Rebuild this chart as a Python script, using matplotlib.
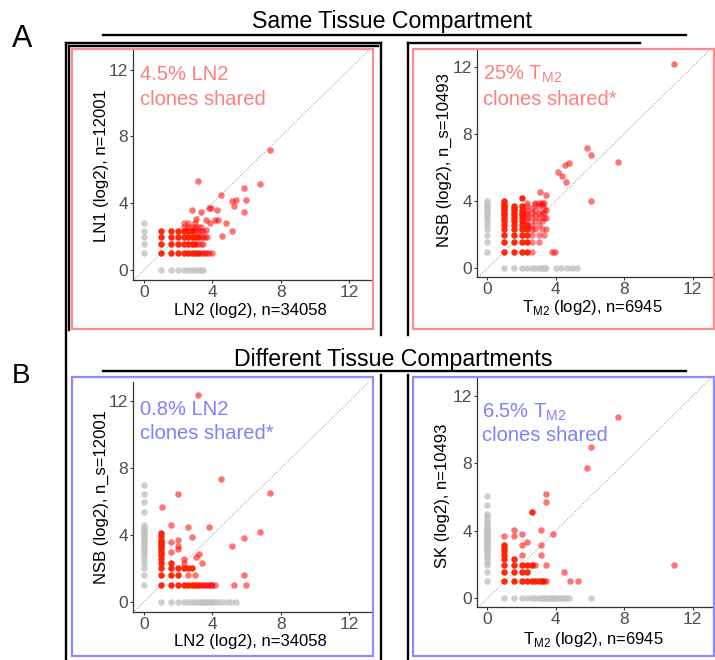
import numpy as np
import matplotlib.pyplot as plt
from matplotlib.lines import Line2D
from matplotlib.patches import Rectangle

plt.rcParams['font.family'] = ['Liberation Sans', 'DejaVu Sans']
plt.rcParams['mathtext.fontset'] = 'custom'
plt.rcParams['mathtext.rm'] = 'Liberation Sans'

# ---------------- data (log2 clone counts) ----------------
# A left: LN2 (x) vs LN1 (y)
a1_gray_y0 = [1, 1.585, 2, 2.322, 2.807]                       # on x = 0
a1_gray_x0 = [1, 1.585, 2, 2.322, 2.585, 2.807, 3, 3.17, 3.32, 3.46]  # on y = 0
a1_dense_rows = {
    1.0: [1, 1.585, 2, 2.322, 2.585, 2.807, 3, 3.17],
    1.585: [1, 1.585, 2, 2.322, 2.585, 2.807, 3],
    2.0: [1, 1.585, 2, 2.322, 2.585, 2.807, 3, 3.17],
    2.322: [1, 1.585, 2, 2.322, 2.585, 2.807],
}
a1_light_rows = {
    1.0: [3.32, 3.46, 3.585, 3.7, 3.807, 4.0],
    1.585: [3.17, 3.32, 3.46],
    2.0: [3.32, 3.46, 3.585, 3.7],
    2.322: [3.0, 3.17, 3.32, 3.46],
    2.585: [2.322, 2.585, 2.807, 3.0, 3.17, 3.32],
    2.807: [2.322, 2.585, 3.0],
}
a1_x = [7.35, 3.17, 5.84, 6.77, 4.49, 5.16, 5.37, 5.99, 5.27, 5.86, 3.81, 3.9,
        4.24, 2.82, 3.32, 3.61, 4.14, 4.33, 4.78, 3.07, 3.84, 4.56, 5.16, 3.65]
a1_y = [7.2, 5.3, 4.94, 5.14, 4.5, 4.14, 4.2, 4.2, 3.86, 3.48, 3.74, 3.74,
        3.6, 3.6, 3.48, 3.0, 3.0, 3.0, 2.84, 3.04, 2.84, 2.04, 2.36, 2.4]

# A right: TM2 (x) vs NSB (y)
a2_gray_y0 = [1, 1.585, 2, 2.322, 2.585, 2.807, 3, 3.17, 3.32, 3.46, 3.585, 3.7, 3.807, 4.0]
a2_gray_x0 = [1, 1.585, 2, 2.322, 2.585, 2.807, 3, 3.17, 3.32, 3.46, 4.0, 4.32, 4.64, 4.95, 5.25]
a2_dense_cols = {
    1.0: [1, 1.585, 2, 2.322, 2.585, 2.807, 3, 3.17, 3.32, 3.46, 3.585, 3.7, 3.807, 4.0],
    1.585: [1, 1.585, 2, 2.322, 2.585, 2.807, 3, 3.17, 3.32, 3.46, 3.585, 3.7],
    2.0: [1, 1.585, 2, 2.322, 2.585, 2.807, 3, 3.17, 3.32, 3.46, 3.7, 4.17],
    2.322: [1, 1.585, 2, 2.322, 2.585],
}
a2_light_cols = {
    2.322: [2.807, 3, 3.17, 3.32, 3.46, 3.7, 3.9],
    2.585: [1, 1.585, 2, 2.322, 2.585, 3, 3.32, 3.585],
    2.807: [2.322, 2.807, 3.17, 3.46, 3.807, 3.9],
    3.0: [1.585, 2.0, 2.585, 3.0, 3.32, 3.7, 3.9],
    3.17: [2.322, 2.807, 3.32, 3.807, 3.9],
    3.32: [2.0, 3.0, 3.32, 3.585, 3.9],
    3.46: [2.322, 3.0, 3.46],
}
a2_x = [3.81, 3.95, 3.09, 3.44, 4.12, 4.36, 4.59, 4.55, 4.75, 5.82, 6.07, 7.64, 6.05, 10.9]
a2_y = [1, 1, 4.55, 4.36, 5.74, 5.5, 5.15, 6.14, 6.24, 7.17, 6.73, 6.3, 4.0, 12.18]

# B left: LN2 (x) vs NSB (y)
b1_gray_y0 = [1, 1.585, 2, 2.322, 2.585, 2.807, 3, 3.17, 3.32, 3.46, 3.585, 3.7, 3.807,
              3.907, 4.0, 4.09, 4.17, 4.25, 4.32, 4.46, 4.58, 5.4, 5.97, 6.42, 6.97]
b1_gray_x0 = [1, 1.585, 2, 2.322, 2.585, 2.807, 3, 3.17, 3.32, 3.46, 3.585, 3.7, 3.807,
              3.907, 4.0, 4.17, 4.32, 4.58, 4.86, 5.1, 5.4]
b1_dense_cols = {
    1.0: [1, 1.585, 2, 2.322, 2.585, 2.807, 3, 3.17, 3.32, 3.46, 3.585, 3.7, 3.907, 4.09],
    1.585: [1, 1.585, 2, 2.322],
    2.0: [1, 1.585, 2],
    2.322: [1, 2],
    2.585: [1, 2],
    2.807: [1, 2],
    3.0: [1],
    3.17: [1],
}
b1_x = [3.32, 3.46, 3.585, 3.7, 3.807, 3.907, 4.0, 4.17, 5.27, 5.99,
        1.03, 1.585, 1.585, 1.585, 2.0, 2.0, 2.0, 2.0, 2.322, 2.322, 2.585, 3.0,
        2.585, 2.82, 3.07, 3.2, 3.37, 3.79, 4.49, 5.16, 5.86, 6.77, 7.35, 5.86, 3.17]
b1_y = [1, 1, 1, 1, 1, 1, 1, 1, 1, 1,
        5.69, 4.58, 3.0, 3.585, 3.17, 3.32, 3.7, 6.42, 2.322, 2.585, 1.585, 1.585,
        4.45, 3.89, 2.7, 2.83, 2.33, 4.5, 7.35, 3.32, 3.79, 4.15, 6.48, 1.58, 12.35]

# B right: TM2 (x) vs SK (y)
b2_gray_y0 = [1, 1.585, 2, 2.17, 2.322, 2.46, 2.585, 2.7, 2.807, 2.9, 3, 3.09, 3.17, 3.25,
              3.32, 3.39, 3.46, 3.52, 3.585, 3.64, 3.7, 3.75, 3.807, 3.86, 3.907, 4.0,
              4.09, 4.17, 4.25, 4.32, 4.46, 4.58, 4.7, 4.86, 5.0, 5.52, 6.1]
b2_gray_x0 = [1, 1.585, 2, 2.322, 2.585, 2.807, 3, 3.17, 3.32, 3.46, 3.585, 3.7, 3.807,
              3.907, 4.0, 4.17, 4.32, 4.46, 4.58, 4.75, 6.06]
b2_dense_cols = {
    1.0: [1, 1.585, 2, 2.322, 2.585, 2.807, 3, 3.17],
    1.585: [1, 1.585, 2, 2.322],
    2.0: [1, 1.585, 2],
    2.322: [1, 1.585, 2],
    2.585: [1, 2, 5.12],
    2.807: [1],
    3.0: [1],
    3.17: [1],
}
b2_x = [3.32, 3.46, 1, 1.585, 1.585, 2, 2, 2, 2.322, 2.807, 3.12, 3.12, 3.12, 3.41, 3.41,
        3.41, 3.86, 4.48, 4.83, 5.28, 5.85, 6.04, 7.62, 10.92]
b2_y = [1, 1, 3.7, 3.7, 4.05, 2.585, 3.17, 3.807, 3.32, 2, 4.05, 3.16, 2.57, 6.17, 5.73,
        1.98, 3.79, 1.58, 1, 1, 7.75, 9.0, 10.75, 1.98]

W, H = 715, 660
RED = '#ff0000'
BOX_RED = '#ff8c8c'
BOX_BLUE = '#8c8cff'
TXT_RED = '#ff7f7f'
TXT_BLUE = '#7f7fff'
GRAY = '#c2c2c2'

fig = plt.figure(figsize=(W / 100, H / 100), dpi=100)


def fx(px):
    return px / W


def fy(py):
    return 1 - py / H


def flat(d, by_row):
    xs, ys = [], []
    for k, vals in d.items():
        for v in vals:
            if by_row:
                xs.append(v); ys.append(k)
            else:
                xs.append(k); ys.append(v)
    return xs, ys


def panel(left, top, right, bottom, x0px, y0px, upx, upy,
          gray_y0, gray_x0, dense, light, sx, sy):
    ax = fig.add_axes([fx(left), fy(bottom), fx(right - left), (bottom - top) / H])
    ax.set_xlim((left - x0px) / upx, (right - x0px) / upx)
    ax.set_ylim((y0px - bottom) / upy, (y0px - top) / upy)
    ax.plot([-1, 14], [-1, 14], ls=(0, (1, 1.5)), color='#a8a8a8', lw=0.8, zorder=1)
    ax.scatter([0] * len(gray_y0), gray_y0, s=22, color=GRAY, alpha=0.8, lw=0, zorder=2)
    ax.scatter(gray_x0, [0] * len(gray_x0), s=22, color=GRAY, alpha=0.8, lw=0, zorder=2)
    dx, dy = dense
    ax.scatter(dx, dy, s=22, color='#ff1e00', alpha=0.95, lw=0, zorder=3)
    lx, ly = light
    ax.scatter(lx, ly, s=22, color=RED, alpha=0.5, lw=0, zorder=3)
    ax.scatter(sx, sy, s=22, color=RED, alpha=0.55, lw=0, zorder=3)
    ax.set_xticks([0, 4, 8, 12])
    ax.set_yticks([0, 4, 8, 12])
    for s in ['top', 'right']:
        ax.spines[s].set_visible(False)
    for s in ['left', 'bottom']:
        ax.spines[s].set_color('#333333')
        ax.spines[s].set_linewidth(0.9)
    ax.tick_params(colors='#333333', labelcolor='#4d4d4d', labelsize=12.5,
                   length=2.5, width=0.8, pad=1.2)
    ax.patch.set_alpha(0)
    return ax


# A left
panel(133, 50, 373, 280, 144, 270, 17.1, 16.7,
      a1_gray_y0, a1_gray_x0, flat(a1_dense_rows, True),
      flat(a1_light_rows, True), a1_x, a1_y)
# A right
panel(477, 50, 712, 277, 487.3, 268.3, 17.1, 16.8,
      a2_gray_y0, a2_gray_x0, flat(a2_dense_cols, False),
      flat(a2_light_cols, False), a2_x, a2_y)
# B left
panel(133, 382, 373, 612, 144, 601.7, 17.1, 16.7,
      b1_gray_y0, b1_gray_x0, flat(b1_dense_cols, False), ([], []), b1_x, b1_y)
# B right
panel(477, 378, 712, 607, 487.3, 598.3, 17.1, 16.85,
      b2_gray_y0, b2_gray_x0, flat(b2_dense_cols, False), ([], []), b2_x, b2_y)

# coloured frames
for (l, t, r, b, c) in [(72, 49, 373, 329, BOX_RED), (413, 49, 714, 329, BOX_RED),
                        (72, 377, 373, 656, BOX_BLUE), (413, 377, 714, 656, BOX_BLUE)]:
    fig.add_artist(Rectangle((fx(l), fy(b)), fx(r - l), (b - t) / H, fill=False,
                             edgecolor=c, lw=1.6, transform=fig.transFigure))

# black frame lines
black = [((66, 43), (66, 660)), ((69, 46), (69, 330)), ((66, 43), (381, 43)),
         ((69, 46), (378, 46)), ((381, 43), (381, 335)), ((381, 375), (381, 660)),
         ((408, 43), (408, 335)), ((408, 375), (408, 660)), ((408, 43), (640, 43)),
         ((103, 35), (686, 35)), ((103, 371), (686, 371))]
for (a, b) in black:
    fig.add_artist(Line2D([fx(a[0]), fx(b[0])], [fy(a[1]), fy(b[1])], color='black',
                          lw=1.7, transform=fig.transFigure))

# headings
fig.text(fx(392), fy(28), 'Same Tissue Compartment', fontsize=16.7, ha='center', va='baseline')
fig.text(fx(393), fy(366), 'Different Tissue Compartments', fontsize=16.7, ha='center', va='baseline')
fig.text(fx(12), fy(47), 'A', fontsize=22, ha='left', va='baseline')
fig.text(fx(12), fy(383), 'B', fontsize=20, ha='left', va='baseline')

# annotations
TM2 = r'T$_{\mathregular{M2}}$'
notes = [(140, 80, 105, '4.5% LN2', 'clones shared', TXT_RED),
         (483, 80, 105, '25% ' + TM2, 'clones shared*', TXT_RED),
         (140, 415, 439, '0.8% LN2', 'clones shared*', TXT_BLUE),
         (482, 418, 441, '6.5% ' + TM2, 'clones shared', TXT_BLUE)]
for (x, y1, y2, t1, t2, c) in notes:
    fig.text(fx(x), fy(y1), t1, fontsize=14.5, color=c, ha='left', va='baseline')
    fig.text(fx(x), fy(y2), t2, fontsize=14.5, color=c, ha='left', va='baseline')

# axis titles
xlabels = [(250, 315, 'LN2 (log2), n=34058'), (592, 312, TM2 + ' (log2), n=6945'),
           (250, 646, 'LN2 (log2), n=34058'), (593, 644, TM2 + ' (log2), n=6945')]
for (x, y, t) in xlabels:
    fig.text(fx(x), fy(y), t, fontsize=12, ha='center', va='baseline')
ylabels = [(101, 166, 'LN1 (log2), n=12001'), (444, 160, 'NSB (log2), n_s=10493'),
           (101, 497, 'NSB (log2), n_s=12001'), (442, 496, 'SK (log2), n=10493')]
for (x, y, t) in ylabels:
    fig.text(fx(x), fy(y), t, fontsize=12, ha='center', va='center', rotation=90)

fig.savefig('out.png', dpi=100)
